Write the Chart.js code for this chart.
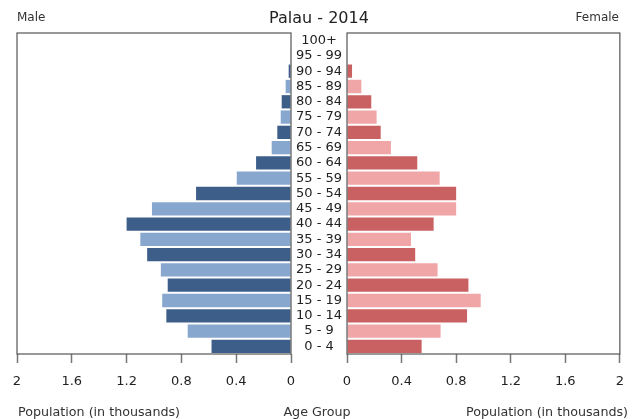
<!DOCTYPE html>
<html>
<head>
<meta charset="utf-8">
<script src="https://cdn.jsdelivr.net/npm/chart.js@4"></script>
<style>
  body { margin: 0; background: #fff; }
  #wrap { position: relative; width: 635px; height: 419px; font-family: 'DejaVu Sans', sans-serif; color: #222; }
  #wrap canvas { position: absolute; top: 0; }
  .txt { position: absolute; white-space: nowrap; transform: translateY(-50%); }
  .mid { transform: translate(-50%, -50%); }
</style>
</head>
<body>
<div id="wrap">
  <canvas id="male" style="left:0px" width="300" height="419"></canvas>
  <canvas id="female" style="left:291px" width="344" height="419"></canvas>
  <div class="txt" style="left:17px; top:17px; font-size:12px; color:#333">Male</div>
  <div class="txt mid" style="left:319px; top:17px; font-size:16px">Palau - 2014</div>
  <div class="txt" style="right:16px; top:17px; font-size:12px; color:#333">Female</div>
  <div class="txt mid" style="left:99px; top:411px; font-size:12.7px; color:#333">Population (in thousands)</div>
  <div class="txt mid" style="left:317px; top:411px; font-size:12.7px; color:#333">Age Group</div>
  <div class="txt mid" style="left:547px; top:411px; font-size:12.7px; color:#333">Population (in thousands)</div>
</div>
<script>
// age groups, bottom to top
const ageGroups = ['0 - 4', '5 - 9', '10 - 14', '15 - 19', '20 - 24', '25 - 29', '30 - 34', '35 - 39', '40 - 44', '45 - 49',
  '50 - 54', '55 - 59', '60 - 64', '65 - 69', '70 - 74', '75 - 79', '80 - 84', '85 - 89', '90 - 94', '95 - 99', '100+'];
// population in thousands
const maleValues = [0.58, 0.754, 0.91, 0.94, 0.90, 0.95, 1.05, 1.10, 1.20, 1.015,
  0.693, 0.396, 0.255, 0.141, 0.10, 0.075, 0.068, 0.039, 0.017, 0.005, 0];
const femaleValues = [0.547, 0.686, 0.88, 0.98, 0.89, 0.664, 0.50, 0.469, 0.635, 0.80,
  0.80, 0.679, 0.515, 0.322, 0.247, 0.217, 0.178, 0.105, 0.037, 0.005, 0];
const popTicks = [0, 0.4, 0.8, 1.2, 1.6, 2];

Chart.defaults.font.family = 'DejaVu Sans';
Chart.defaults.animation = false;

const maleColors = ageGroups.map((a, i) => i % 2 === 0 ? '#3e5e8a' : '#88a7cf');
const femaleColors = ageGroups.map((a, i) => i % 2 === 0 ? '#c96061' : '#f0a6a6');

// draws the frame round the plot area
const frame = {
  id: 'frame',
  afterDraw(chart) {
    const { ctx, chartArea: a } = chart;
    ctx.save();
    ctx.strokeStyle = '#555';
    ctx.lineWidth = 1.2;
    ctx.strokeRect(a.left, a.top, a.right - a.left, a.bottom - a.top);
    ctx.restore();
  }
};

function xScale(reverse) {
  return {
    type: 'linear',
    min: 0,
    max: 2,
    reverse: reverse,
    afterBuildTicks(s) { s.ticks = popTicks.map(v => ({ value: v })); },
    afterFit(s) { s.height = 40; },
    ticks: {
      font: { size: 13 },
      color: '#222',
      padding: 11,
      callback: v => String(v)
    },
    grid: { drawOnChartArea: false, tickLength: 9, tickColor: '#777', tickWidth: 1.5 },
    border: { display: false }
  };
}

new Chart(document.getElementById('male'), {
  type: 'bar',
  data: {
    labels: ageGroups,
    datasets: [{ data: maleValues, backgroundColor: maleColors, barPercentage: 0.87, categoryPercentage: 1 }]
  },
  options: {
    indexAxis: 'y',
    responsive: false,
    layout: { padding: { left: 17, right: 9, top: 33, bottom: 25 } },
    plugins: { legend: { display: false }, tooltip: { enabled: false } },
    scales: {
      x: xScale(true),
      y: { reverse: true, display: false }
    }
  },
  plugins: [frame]
});

new Chart(document.getElementById('female'), {
  type: 'bar',
  data: {
    labels: ageGroups,
    datasets: [{ data: femaleValues, backgroundColor: femaleColors, barPercentage: 0.87, categoryPercentage: 1 }]
  },
  options: {
    indexAxis: 'y',
    responsive: false,
    layout: { padding: { left: 0, right: 14, top: 33, bottom: 25 } },
    plugins: { legend: { display: false }, tooltip: { enabled: false } },
    scales: {
      x: xScale(false),
      y: {
        reverse: true,
        afterFit(s) { s.width = 56; },
        ticks: { font: { size: 13 }, color: '#222', crossAlign: 'center', padding: 5, autoSkip: false },
        grid: { display: false, drawTicks: false },
        border: { display: false }
      }
    }
  },
  plugins: [frame]
});
</script>
</body>
</html>
